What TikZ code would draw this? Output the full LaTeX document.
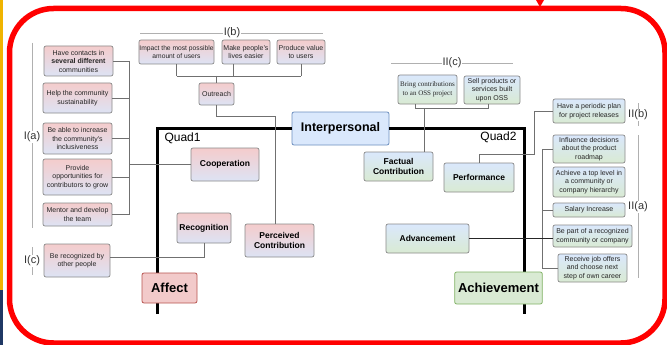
\documentclass[tikz,border=0pt]{standalone}
\usepackage{fontspec}
\setmainfont{Liberation Sans}
\newfontfamily\serifbox{Liberation Serif}
\definecolor{pinkT}{HTML}{F4CCCC}
\definecolor{lavB}{HTML}{DDE3F4}
\definecolor{blueT}{HTML}{DAE8FC}
\definecolor{greenB}{HTML}{D9EAD3}
\definecolor{boxline}{HTML}{8A8A8A}
\definecolor{conn}{HTML}{707070}
\definecolor{lblline}{HTML}{B0B0B0}
\definecolor{goldstrip}{HTML}{F0B400}
\definecolor{navystrip}{HTML}{1F3864}
\definecolor{interfill}{HTML}{DAE8FC}
\definecolor{interline}{HTML}{6C8EBF}
\definecolor{affline}{HTML}{B85450}
\definecolor{achline}{HTML}{82B366}
\definecolor{afffill}{HTML}{F2CACA}
\begin{document}
\begin{tikzpicture}[x=1pt,y=-1pt,
  box/.style={draw=boxline, line width=0.7pt, rounded corners=2pt, align=center,
    inner sep=0.5pt, text=black!85, font=\fontsize{7}{8.5}\selectfont},
  qa/.style={box, top color=pinkT, bottom color=lavB},
  qb/.style={box, top color=blueT, bottom color=greenB},
  bigtxt/.style={font=\bfseries\fontsize{8.5}{10}\selectfont, text=black},
  sz/.style 2 args={minimum width=#1pt, minimum height=#2pt},
  conline/.style={draw=conn, line width=0.7pt},
  lblln/.style={draw=lblline, line width=0.8pt},
  lbltext/.style={fill=white, inner sep=1pt, text=black!80, font=\fontsize{11}{13}\selectfont},
  quadline/.style={line width=3pt, black},
  quadtxt/.style={font=\fontsize{12}{14}\selectfont, text=black}
]
\useasboundingbox (0,0) rectangle (667,345);
\clip (0,0) rectangle (667,345);
\fill[white] (0,0) rectangle (667,345);
\fill[goldstrip] (0,0) rectangle (2.5,290);
\fill[navystrip] (0,290) rectangle (3,345);
\draw[red, line width=5.5pt, rounded corners=44pt] (9.5,8.5) rectangle (665,343);
\fill[red] (536,0) -- (544,0) -- (540,7) -- cycle;

% Interpersonal and the quadrant frame
\node[draw=interline, fill=interfill, line width=0.8pt, rounded corners=2pt, sz={97}{33},
  font=\bfseries\fontsize{12.5}{14}\selectfont] (Inter) at (340.5,128.5) {Interpersonal};
\coordinate (q1b) at (157,314);
\coordinate (q2b) at (524,314);
\draw[quadline] (q1b) |- (Inter.west);
\draw[quadline] (Inter.east) -| (q2b);
\node[quadtxt, anchor=west] (Q1) at (161,138) {Quad1};
\node[quadtxt, anchor=east] (Q2) at (520,137) {Quad2};

% left column
\node[qa, sz={69}{30}] (A1) at (78.5,61) {Have contacts in\\\textbf{several different}\\communities};
\node[qa, sz={69}{30}] (A2) at (77.5,98) {Help the community\\sustainability};
\node[qa, sz={69}{31}] (A3) at (77.5,138.5) {Be able to increase\\the community's\\inclusiveness};
\node[qa, sz={69}{36}] (A4) at (77.5,177) {Provide\\opportunities for\\contributors to grow};
\node[qa, sz={69}{23}] (A5) at (77.5,214.5) {Mentor and develop\\the team};
\node[qa, sz={66}{33}] (C1) at (77,260.5) {Be recognized by\\other people};

% top row
\node[qa, sz={75}{24}, font=\fontsize{6.7}{8.3}\selectfont] (B1) at (176.5,52) {Impact the most possible\\amount of users};
\node[qa, sz={48}{24}] (B2) at (246,52) {Make people's\\lives easier};
\node[qa, sz={48}{24}] (B3) at (301,52) {Produce value\\to users};
\node[qa, sz={35}{22}] (Out) at (216.5,94) {Outreach};

% quad 1
\node[qa, bigtxt, sz={68}{33}] (Coop) at (225,164.5) {Cooperation};
\node[qa, bigtxt, sz={54}{30}] (Rec) at (204,228) {Recognition};
\node[qa, bigtxt, sz={69}{33}] (Perc) at (279.5,240.5) {Perceived\\Contribution};
\node[draw=affline, fill=afffill, line width=0.8pt, rounded corners=2pt, sz={55}{30},
  font=\bfseries\fontsize{13}{15}\selectfont] (Aff) at (169.5,288) {Affect};

% quad 2
\node[qb, sz={59}{29}, font=\serifbox\fontsize{7}{8.6}\selectfont] (D1) at (427.5,89.5) {Bring contributions\\to an OSS project};
\node[qb, sz={56}{28}] (D2) at (492,90) {Sell products or\\services built\\upon OSS};
\node[qb, bigtxt, sz={69}{29}] (Fact) at (398.5,166.5) {Factual\\Contribution};
\node[qb, bigtxt, sz={70}{29}] (Perf) at (479,177.5) {Performance};
\node[qb, bigtxt, sz={83}{29}] (Adv) at (427.5,238.5) {Advancement};
\node[draw=achline, fill=greenB, line width=0.8pt, rounded corners=2pt, sz={87}{32},
  font=\bfseries\fontsize{13}{15}\selectfont] (Ach) at (498.5,288) {Achievement};

% right column
\node[qb, sz={72}{24}] (E1) at (589,111) {Have a periodic plan\\for project releases};
\node[qb, sz={72}{28}] (F1) at (589,149) {Influence decisions\\about the product\\roadmap};
\node[qb, sz={72}{30}] (F2) at (589,182) {Achieve a top level in\\a community or\\company hierarchy};
\node[qb, sz={72}{14}] (F3) at (589,210) {Salary Increase};
\node[qb, sz={79}{22}] (F4) at (592.5,236) {Be part of a recognized\\community or company};
\node[qb, sz={69}{28}] (F5) at (592.5,268) {Receive job offers\\and choose next\\step of own career};

% group labels
\coordinate (la1) at (32,43); \coordinate (la2) at (32,228);
\draw[lblln] (la1) -- (la2);
\node[lbltext] (La) at (32,137) {I(a)};
\coordinate (lc1) at (32,247); \coordinate (lc2) at (32,275);
\draw[lblln] (lc1) -- (lc2);
\node[lbltext] (Lc) at (32,261) {I(c)};
\coordinate (lb1) at (140,33); \coordinate (lb2) at (323,33);
\draw[lblln] (lb1) -- (lb2);
\node[lbltext] (Lb) at (232,33) {I(b)};
\coordinate (lic1) at (391,63); \coordinate (lic2) at (513,63);
\draw[lblln] (lic1) -- (lic2);
\node[lbltext] (LIIc) at (452,63) {II(c)};
\coordinate (lib1) at (638,103); \coordinate (lib2) at (638,126);
\draw[lblln] (lib1) -- (lib2);
\node[lbltext] (LIIb) at (638,115) {II(b)};
\coordinate (lia1) at (638,135); \coordinate (lia2) at (638,278);
\draw[lblln] (lia1) -- (lia2);
\node[lbltext] (LIIa) at (638,207) {II(a)};

% connectors: left bracket to Cooperation
\coordinate (bx) at (129,0);
\draw[conline] (A1.east -| bx) -- (A5.east -| bx);
\foreach \n in {A1,A2,A3,A4,A5} \draw[conline] (\n.east) -- (\n.east -| bx);
\draw[conline] (bx |- Coop.west) -- (Coop.west);

% top row to Outreach
\coordinate (by) at (0,76);
\draw[conline] (B1.south) -- (B1.south |- by);
\draw[conline] ([xshift=-13pt]B2.south) -- ([xshift=-13pt]B2.south |- by);
\draw[conline] (B3.south) -- (B3.south |- by);
\draw[conline] (B1.south |- by) -- (B3.south |- by);
\draw[conline] (Out.north |- by) -- (Out.north);
\draw[conline] (Out.south) -- ++(0,11) -| ([xshift=-4.5pt]Perc.north);

% Recognition
\draw[conline] (Rec.south) |- ([yshift=3.5pt]C1.east);

% II(c)
\coordinate (dy) at (0,108);
\draw[conline] ([xshift=-12.5pt]D1.south) -- ([xshift=-12.5pt]D1.south |- dy)
  -- ([xshift=-4pt]D2.south |- dy) -- ([xshift=-4pt]D2.south);
\draw[conline] ([xshift=25.5pt]Fact.north |- dy) -- ([xshift=25.5pt]Fact.north);

% Performance
\coordinate (px) at (534,0);
\draw[conline] (Perf.north) -- ++(0,-8) -| (px |- E1.west) -- (E1.west);

% II(a) bracket
\coordinate (fx) at (542,0);
\draw[conline] (fx |- F1.west) -- (fx |- F5.west);
\draw[conline] (fx |- F1.west) -- (F1.west);
\draw[conline] (fx |- F3.west) -- (F3.west);
\draw[conline] (fx |- F5.west) -- (F5.west);

% Advancement
\draw[black!85, line width=0.8pt] (Adv.east) -- (Adv.east -| F4.west);
\end{tikzpicture}
\end{document}
